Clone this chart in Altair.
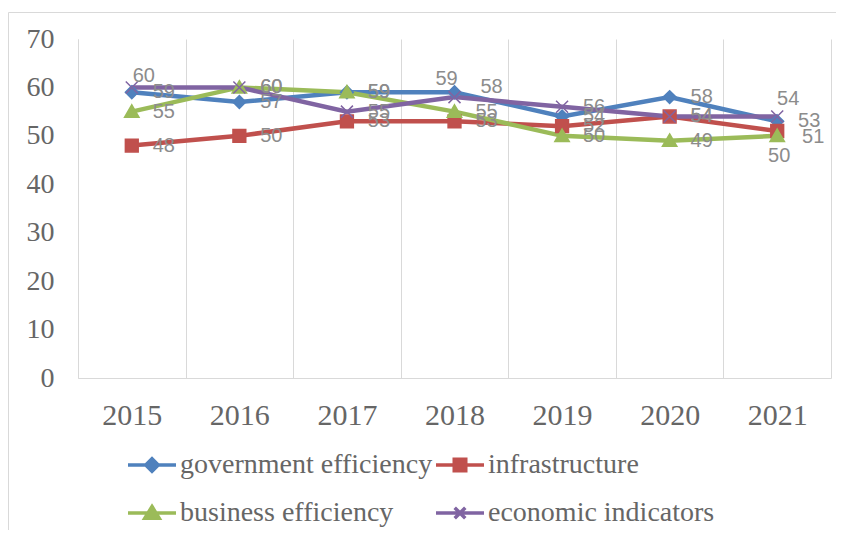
import altair as alt
import pandas as pd

years = ["2015", "2016", "2017", "2018", "2019", "2020", "2021"]
series_names = ["government efficiency", "infrastructure", "business efficiency", "economic indicators"]
government = [59, 57, 59, 59, 54, 58, 53]
infrastructure = [48, 50, 53, 53, 52, 54, 51]
business = [55, 60, 59, 55, 50, 49, 50]
economic = [60, 60, 55, 58, 56, 54, 54]
y_ticks = [0, 10, 20, 30, 40, 50, 60, 70]

colors = ["#4F81BD", "#C0504D", "#9BBB59", "#8064A2"]

rows = []
for name, vals in zip(series_names, [government, infrastructure, business, economic]):
    for yr, v in zip(years, vals):
        rows.append({"year": yr, "series": name, "value": v})
df = pd.DataFrame(rows)

# marker shapes (chart) and legend symbols (line + marker, stroked only)
marker_paths = [
    "M0,-0.8L0.8,0L0,0.8L-0.8,0Z",
    "M-0.8,-0.8H0.8V0.8H-0.8Z",
    "M0,-0.85L0.9,0.7H-0.9Z",
    "M-0.75,-0.75L0.75,0.75M-0.75,0.75L0.75,-0.75",
]
legend_paths = [
    "M-1,0H1M0,-0.26L0.26,0L0,0.26L-0.26,0ZM0,-0.12L0.12,0L0,0.12L-0.12,0Z",
    "M-1,0H1M-0.24,-0.24H0.24V0.24H-0.24ZM-0.1,-0.1H0.1V0.1H-0.1Z",
    "M-1,0H1M0,-0.27L0.3,0.22H-0.3ZM0,-0.1L0.12,0.12H-0.12Z",
    "M-1,0H1M-0.22,-0.22L0.22,0.22M-0.22,0.22L0.22,-0.22",
]

# label nudges (dx, dy) for labels Excel moved away from the default "right" slot
label_nudges = {
    "economic indicators|2015": (12, -11),
    "government efficiency|2018": (-8, -13),
    "economic indicators|2018": (37, -10),
    "economic indicators|2021": (11, -17),
    "infrastructure|2021": (36, 6),
    "business efficiency|2021": (2, 20),
}

serif = "Liberation Serif"
sans = "Liberation Sans"
text_gray = "#666666"
label_gray = "#8c8c8c"
grid_gray = "#d9d9d9"

base = alt.Chart(df).transform_calculate(key="datum.series + '|' + datum.year")

x_enc = alt.X(
    "year:O",
    sort=years,
    scale=alt.Scale(type="band", paddingInner=0, paddingOuter=0),
    axis=alt.Axis(
        title=None, labelAngle=0, grid=True, gridColor=grid_gray, tickBand="extent",
        domainColor=grid_gray, ticks=False, tickSize=0, labelFont=serif, labelFontSize=30,
        labelColor=text_gray, labelPadding=22,
    ),
)
y_enc = alt.Y(
    "value:Q",
    scale=alt.Scale(domain=[0, 70], nice=False),
    axis=alt.Axis(
        title=None, values=y_ticks, grid=False, ticks=False, tickSize=0, domainColor=grid_gray,
        labelFont=serif, labelFontSize=28, labelColor=text_gray, labelPadding=24,
    ),
)
color_scale = alt.Scale(domain=series_names, range=colors)

layers = []
for name, col in zip(series_names, colors):
    layers.append(
        base.transform_filter(alt.datum.series == name)
        .mark_line(strokeWidth=4.5, color=col)
        .encode(x=x_enc, y=y_enc)
    )
for name, path, col in zip(series_names, marker_paths, colors):
    layers.append(
        base.transform_filter(alt.datum.series == name)
        .mark_point(shape=path, size=256, filled=True, fill=col, stroke=col, strokeWidth=1.5, opacity=1)
        .encode(x=x_enc, y=y_enc)
    )

legend_props = dict(
    title=None, orient="none", legendX=48, legendY=400, columns=2, direction="horizontal",
    padding=0, symbolSize=2304, symbolStrokeWidth=3.5, symbolOpacity=1, labelOffset=2,
    labelFont=serif, labelFontSize=28, labelColor=text_gray, columnPadding=-4,
    rowPadding=8, labelLimit=400,
)
legend_layer = base.mark_point(filled=False, opacity=0).encode(
    x=x_enc,
    y=y_enc,
    shape=alt.Shape(
        "series:N",
        scale=alt.Scale(domain=series_names, range=legend_paths),
        legend=alt.Legend(**legend_props),
    ),
    color=alt.Color("series:N", scale=color_scale, legend=alt.Legend(**legend_props)),
)
layers.append(legend_layer)

special_keys = list(label_nudges.keys())
keys_js = "[" + ",".join("'" + k + "'" for k in special_keys) + "]"
default_labels = (
    base.transform_filter(f"indexof({keys_js}, datum.key) < 0")
    .mark_text(dx=32, dy=0, align="center", baseline="middle", font=sans, fontSize=20, color=label_gray)
    .encode(x=x_enc, y=y_enc, text="value:Q")
)
layers.append(default_labels)
for k, (dx, dy) in label_nudges.items():
    layers.append(
        base.transform_filter(f"datum.key == '{k}'")
        .mark_text(dx=dx, dy=dy, align="center", baseline="middle", font=sans, fontSize=20, color=label_gray)
        .encode(x=x_enc, y=y_enc, text="value:Q")
    )

frame = alt.Chart(pd.DataFrame({"a": [0]})).mark_rect(
    fill="transparent", stroke=grid_gray, strokeWidth=1
).encode(x=alt.value(-69.5), x2=alt.value(900), y=alt.value(-26.5), y2=alt.value(700))

chart = (
    alt.layer(frame, *layers)
    .properties(
        width=753, height=339,
        autosize=alt.AutoSizeParams(type="none"),
        padding={"left": 70, "top": 31, "right": 5, "bottom": 152},
    )
    .configure_view(stroke=None)
    .configure_legend(
        labelFont=serif, labelFontSize=28, labelColor=text_gray, direction="horizontal",
        columns=2, rowPadding=8, columnPadding=-4, labelOffset=2, symbolSize=2304,
        symbolStrokeWidth=3.5, labelLimit=400, padding=0,
    )
)

chart.save("out.html", embed_options={"renderer": "svg", "actions": False})
